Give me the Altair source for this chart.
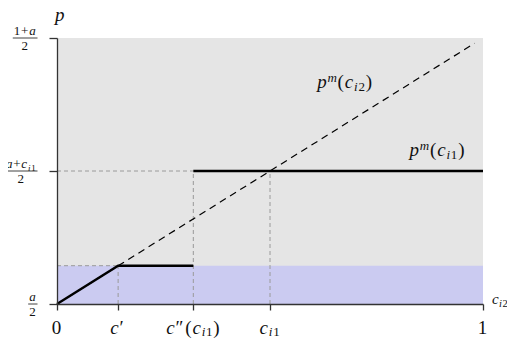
import altair as alt
import pandas as pd

# ---- data (a taken as 0 on the vertical scale) ----
c_prime = 0.1435
c_dprime = 0.32
c_i1 = 0.5
p_low = 0.072      # blue region top / level at c'
p_ci1 = 0.25       # (a + c_i1)/2

x_ticks = [0.0, c_prime, c_dprime, c_i1, 1.0]
y_ticks = [0.0, p_ci1, 0.5]

# dashed p^m(c_i2) line
dash_x = [0.0, 0.98]
dash_y = [0.0, 0.49]

# solid pricing path: segment id, x, y
solid_seg = ["A", "A", "A", "B", "B"]
solid_x = [0.0, c_prime, c_dprime, c_dprime, 1.0]
solid_y = [0.0, p_low, p_low, p_ci1, p_ci1]

# gray dashed guides
guide_x = [0.0, c_dprime, c_i1, 0.0, c_prime]
guide_x2 = [c_dprime, c_dprime, c_i1, c_prime, c_prime]
guide_y = [p_ci1, 0.0, 0.0, p_low, 0.0]
guide_y2 = [p_ci1, p_ci1, p_ci1, p_low, p_low]

# curve label anchors (centre x, baseline y)
curve_label_x = [0.676, 0.893]
curve_label_y = [0.406, 0.278]

# ---- styling ----
W, H = 426, 266
SERIF = "'Liberation Serif', 'Times New Roman', 'DejaVu Serif', serif"
INK = "#111"
GRAY_BG = "#e5e5e5"
BLUE_BG = "#cbcbf1"

xs = alt.Scale(domain=[0, 1], nice=False, zero=False)
ys = alt.Scale(domain=[0, 0.5], nice=False, zero=False)

regions = pd.DataFrame({"x": [0.0, 0.0], "x2": [1.0, 1.0], "y": [0.0, 0.0],
                        "y2": [0.5, p_low], "c": [GRAY_BG, BLUE_BG]})

bg = alt.Chart(regions).mark_rect().encode(
    x=alt.X("x:Q", scale=xs,
            axis=alt.Axis(values=x_ticks, labels=False, title=None, grid=False,
                          tickSize=6, tickColor="#333", domainColor="#333",
                          domainWidth=1.3, tickWidth=1.3, zindex=2)),
    x2="x2:Q",
    y=alt.Y("y:Q", scale=ys,
            axis=alt.Axis(values=y_ticks, labels=False, title=None, grid=False,
                          tickSize=8, tickColor="#333", domainColor="#333",
                          domainWidth=1.3, tickWidth=1.3, zindex=2)),
    y2="y2:Q",
    color=alt.Color("c:N", scale=None),
)

guides_df = pd.DataFrame({"x": guide_x, "x2": guide_x2, "y": guide_y, "y2": guide_y2})
guides = alt.Chart(guides_df).mark_rule(color="#9a9a9a", strokeWidth=1,
                                        strokeDash=[4, 3]).encode(
    x=alt.X("x:Q", scale=xs), x2="x2:Q", y=alt.Y("y:Q", scale=ys), y2="y2:Q")

dash_df = pd.DataFrame({"x": dash_x, "y": dash_y})
dashed = alt.Chart(dash_df).mark_line(color="black", strokeWidth=1.2,
                                      strokeDash=[7, 5]).encode(
    x=alt.X("x:Q", scale=xs), y=alt.Y("y:Q", scale=ys))

solid_df = pd.DataFrame({"seg": solid_seg, "x": solid_x, "y": solid_y,
                         "o": list(range(len(solid_x)))})
solid = alt.Chart(solid_df).mark_line(color="black", strokeWidth=2.4).encode(
    x=alt.X("x:Q", scale=xs), y=alt.Y("y:Q", scale=ys),
    detail="seg:N", order="o:Q")

# ---- rich (math-like) text built from runs ----
W_IT = {"a": .5, "c": .444, "i": .278, "m": .722, "p": .5}
W_UP = {"(": .333, ")": .333, "+": .564, "′": .30, "″": .48, " ": .25}


def run_width(text, size, italic):
    tot = 0.0
    for ch in text:
        if ch.isdigit():
            tot += .5
        elif italic:
            tot += W_IT.get(ch, .5)
        else:
            tot += W_UP.get(ch, .5)
    return tot * size


def rich(runs, xv, yv, align="center", dx=0.0, dy=0.0, x_is_px=False, gap=0.8):
    """runs: list of (text, size, italic, rise_px)."""
    widths = [run_width(t, s, it) + gap for t, s, it, r in runs]
    total = sum(widths)
    if align == "center":
        start = -total / 2
    elif align == "right":
        start = -total
    else:
        start = 0.0
    layers = []
    off = start
    one = pd.DataFrame({"k": [0]})
    for (t, s, it, r), w in zip(runs, widths):
        kw = dict(text=t, font=SERIF, fontSize=s, align="left",
                  baseline="alphabetic", dx=dx + off, dy=dy - r, color=INK)
        if it:
            kw["fontStyle"] = "italic"
        xe = alt.value(xv) if x_is_px else alt.datum(xv)
        layers.append(alt.Chart(one).mark_text(**kw).encode(x=xe, y=alt.datum(yv)))
        off += w
    return layers


FS = 19      # main label size
SS = 13      # script size
SUB = -2     # subscript rise
SUP = 6.5    # superscript rise

text_layers = []

# x tick labels (baseline below the axis)
x_label_runs = [
    [("0", FS, False, 0)],
    [("c", FS, True, 0), ("′", FS, False, 0)],
    [("c", FS, True, 0), ("″", FS, False, 0), ("(", FS, False, 0),
     ("c", FS, True, 0), ("i", SS, True, SUB), ("1", SS, False, SUB), (")", FS, False, 0)],
    [("c", FS, True, 0), ("i", SS, True, SUB), ("1", SS, False, SUB)],
    [("1", FS, False, 0)],
]
for xv, runs in zip(x_ticks, x_label_runs):
    text_layers += rich(runs, xv, 0.0, align="center", dy=29.5)

# curve labels
curve_runs = [
    [("p", FS, True, 0), ("m", SS, True, SUP), ("(", FS, False, 0),
     ("c", FS, True, 0), ("i", SS, True, -3), ("2", SS, False, -3), (")", FS, False, 0)],
    [("p", FS, True, 0), ("m", SS, True, SUP), ("(", FS, False, 0),
     ("c", FS, True, 0), ("i", SS, True, -3), ("1", SS, False, -3), (")", FS, False, 0)],
]
for xv, yv, runs in zip(curve_label_x, curve_label_y, curve_runs):
    text_layers += rich(runs, xv, yv, align="center")

# axis titles
text_layers += rich([("p", FS, True, 0)], 0.0, 0.5, align="left", dx=-2, dy=-17)
text_layers += rich([("c", 15, True, 0), ("i", 10.5, True, -3), ("2", 10.5, False, -3)],
                    1.0, 0.0, align="left", dx=9, dy=0, gap=0.4)

# stacked-fraction y tick labels
FF = 13
FSS = 9
RIGHT = -19.5
frac_num = [
    [("a", FF, True, 0)],
    [("a", FF, True, 0), ("+", FF, False, 0), ("c", FF, True, 0),
     ("i", FSS, True, -2.5), ("1", FSS, False, -2.5)],
    [("1", FF, False, 0), ("+", FF, False, 0), ("a", FF, True, 0)],
]
frac_den = [[("2", FF, False, 0)]] * 3
for yv, num, den in zip(y_ticks, frac_num, frac_den):
    wn = sum(run_width(t, s, it) + 0.8 for t, s, it, r in num)
    wd = sum(run_width(t, s, it) + 0.8 for t, s, it, r in den)
    w = max(wn, wd) + 2
    cx = RIGHT - w / 2
    text_layers += rich(num, cx, yv, align="center", dy=-3, x_is_px=True)
    text_layers += rich(den, cx, yv, align="center", dy=11.5, x_is_px=True)
    text_layers.append(
        alt.Chart(pd.DataFrame({"y": [yv]})).mark_rule(color=INK, strokeWidth=0.8).encode(
            x=alt.value(RIGHT - w), x2=alt.value(RIGHT), y=alt.Y("y:Q", scale=ys)))

chart = alt.layer(bg, guides, dashed, solid, *text_layers).properties(
    width=W, height=H,
    autosize=alt.AutoSizeParams(type="none"),
    padding={"left": 49, "top": 30, "right": 24, "bottom": 34},
).configure_view(stroke=None)

chart.save("out.html", embed_options={"renderer": "svg", "actions": False})
